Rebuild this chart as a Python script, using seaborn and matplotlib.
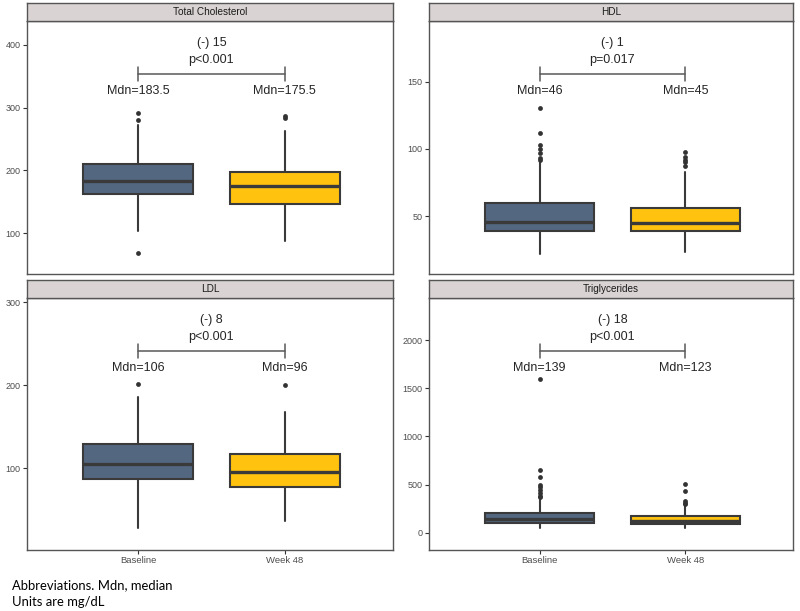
"""
Lipid panels at Baseline vs Week 48, boxplots with median labels and change brackets
"""
import numpy as np
import pandas as pd
import matplotlib
matplotlib.use("Agg")
import matplotlib.pyplot as plt
import matplotlib.transforms as mtransforms
import seaborn as sns

# Data
panels = ["Total Cholesterol", "HDL", "LDL", "Triglycerides"]
groups = ["Baseline", "Week 48"]

median = [[183.5, 175.5], [46, 45], [106, 96], [139, 123]]
q1 = [[163, 147], [39, 39], [87, 78], [96, 93]]
q3 = [[209.5, 198], [59.5, 56], [129, 117], [207, 172]]
whis_lo = [[104, 87], [22, 23], [28, 37], [50, 48]]
whis_hi = [[272, 263], [90, 83], [186, 168], [355, 290]]
outliers = [
    [[68, 281, 292], [283, 287]],
    [[92, 93, 97, 100, 103, 112, 130], [87, 90, 92, 94, 98]],
    [[202], [200]],
    [[375, 385, 410, 440, 470, 500, 580, 650, 1600], [300, 310, 330, 430, 510]],
]
diff_labels = ["(-) 15", "(-) 1", "(-) 8", "(-) 18"]
p_labels = ["p<0.001", "p=0.017", "p<0.001", "p<0.001"]

# axis ranges / ticks
ylims = [(35, 438), (7, 195), (2, 305), (-180, 2437)]
yticks = [[100, 200, 300, 400], [50, 100, 150], [100, 200, 300], [0, 500, 1000, 1500, 2000]]

# Style
FILLS = ["#546781", "#FFC20E"]
EDGE = "#3A3A3A"
FRAME = "#555555"
TICK_TXT = "#4D4D4D"

sns.set_theme(style="white")
plt.rcParams['font.family'] = ['Liberation Sans', 'DejaVu Sans']

fig = plt.figure(figsize=(8.0, 6.11), dpi=100)
W, H = 800, 611


def px_rect(x0, y0, x1, y1):
    return [x0 / W, 1 - y1 / H, (x1 - x0) / W, (y1 - y0) / H]


# pixel boxes: (plot area, strip)
layout = [
    ((27, 21, 393, 274), (27, 3, 393, 21)),
    ((429, 21, 793, 274), (429, 3, 793, 21)),
    ((27, 298, 393, 550), (27, 280, 393, 298)),
    ((429, 298, 793, 550), (429, 280, 793, 298)),
]

# long table of outliers for seaborn
rows = []
for i, p in enumerate(panels):
    for j, g in enumerate(groups):
        for v in outliers[i][j]:
            rows.append({"panel": p, "pos": j, "value": v})
out_df = pd.DataFrame(rows)

for i, p in enumerate(panels):
    (plot_box, strip_box) = layout[i]
    ax = fig.add_axes(px_rect(*plot_box))

    stats = []
    for j, g in enumerate(groups):
        stats.append({
            "med": median[i][j], "q1": q1[i][j], "q3": q3[i][j],
            "whislo": whis_lo[i][j], "whishi": whis_hi[i][j],
            "fliers": [], "label": g,
        })
    bp = ax.bxp(stats, positions=[0, 1], widths=0.75, patch_artist=True,
                showcaps=False, showfliers=False,
                boxprops=dict(edgecolor=EDGE, linewidth=1.5),
                whiskerprops=dict(color=EDGE, linewidth=1.5),
                medianprops=dict(color=EDGE, linewidth=2.4, solid_capstyle="butt"))
    for patch, c in zip(bp["boxes"], FILLS):
        patch.set_facecolor(c)
    # whiskers under the box
    for w in bp["whiskers"]:
        w.set_zorder(1)
    for b in bp["boxes"]:
        b.set_zorder(2)
    for m in bp["medians"]:
        m.set_zorder(3)

    sub = out_df[out_df["panel"] == p]
    sns.scatterplot(data=sub, x="pos", y="value", ax=ax, color="#333333",
                    s=12, linewidth=0, legend=False, zorder=4)

    ax.set_xlim(-0.76, 1.74)
    ax.set_ylim(*ylims[i])
    ax.set_yticks(yticks[i])
    ax.set_xlabel("")
    ax.set_ylabel("")

    # annotations: bracket, change and p-value, medians
    trans = mtransforms.blended_transform_factory(ax.transData, ax.transAxes)
    yb = 0.79
    ax.plot([0, 1], [yb, yb], color="#595959", lw=1.1, transform=trans)
    for xx in (0, 1):
        ax.plot([xx, xx], [yb - 0.027, yb + 0.027], color="#595959", lw=1.1, transform=trans)
    ax.text(0.5, 0.912, diff_labels[i], ha="center", va="center", fontsize=9,
            color="#262626", transform=trans)
    ax.text(0.5, 0.845, p_labels[i], ha="center", va="center", fontsize=9,
            color="#262626", transform=trans)
    for j in range(2):
        ax.text(j, 0.722, f"Mdn={median[i][j]:g}", ha="center", va="center",
                fontsize=9, color="#262626", transform=trans)

    for s in ax.spines.values():
        s.set_color(FRAME)
        s.set_linewidth(1.0)
    ax.tick_params(axis="y", length=3, width=0.8, color="#333333",
                   labelsize=6.5, labelcolor=TICK_TXT, pad=1.5, left=True)
    if i >= 2:
        ax.set_xticks([0, 1])
        ax.set_xticklabels(groups)
        ax.tick_params(axis="x", length=3, width=0.8, color="#333333",
                       labelsize=6.8, labelcolor=TICK_TXT, pad=1.5, bottom=True)
    else:
        ax.set_xticks([])

    # facet strip
    sax = fig.add_axes(px_rect(*strip_box))
    sax.set_facecolor("#D9D4D3")
    sax.set_xticks([])
    sax.set_yticks([])
    for s in sax.spines.values():
        s.set_color(FRAME)
        s.set_linewidth(1.0)
    sax.text(0.5, 0.5, p, ha="center", va="center", fontsize=7.2,
             color="#1A1A1A", transform=sax.transAxes)

fig.text(12 / W, 1 - 585 / H, "Abbreviations. Mdn, median", ha="left", va="center",
         fontsize=9.4, color="black", family=["Lato", "DejaVu Sans"])
fig.text(12 / W, 1 - 602 / H, "Units are mg/dL", ha="left", va="center",
         fontsize=9.4, color="black", family=["Lato", "DejaVu Sans"])

fig.savefig("out.png", dpi=100)
